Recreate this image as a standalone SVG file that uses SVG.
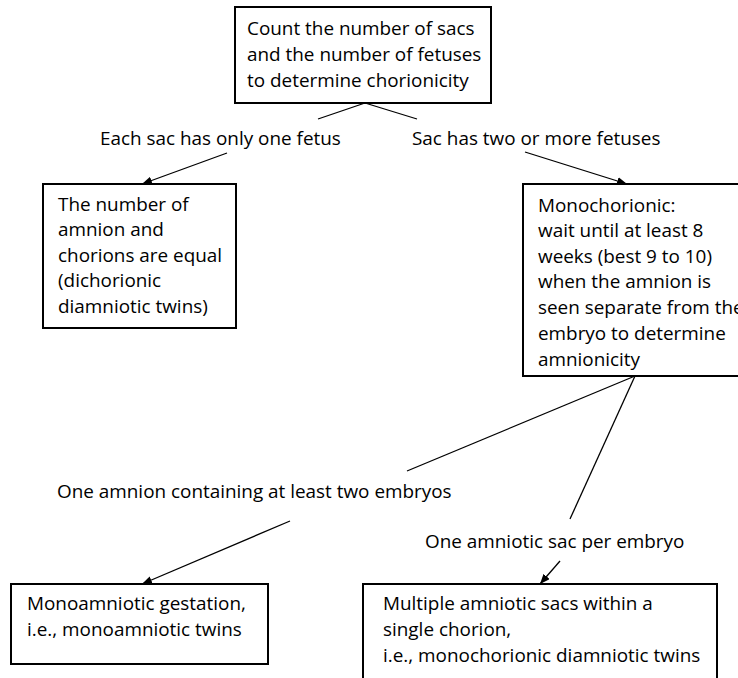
<svg xmlns="http://www.w3.org/2000/svg" width="738" height="678" viewBox="0 0 738 678">
  <defs>
    <marker id="arrow" viewBox="0 0 10 8" refX="10" refY="4" markerWidth="10" markerHeight="8" markerUnits="userSpaceOnUse" orient="auto">
      <path d="M0,0 L10,4 L0,8 z" fill="#000"/>
    </marker>
    <style>
      .box { fill: #fff; stroke: #000; stroke-width: 2; }
      .txt { font-family: "Open Sans", "Noto Sans", "Liberation Sans", sans-serif; font-size: 18.9px; fill: #000; }
      .line { stroke: #000; stroke-width: 1.3; fill: none; }
      .arr { stroke: #000; stroke-width: 1.3; fill: none; marker-end: url(#arrow); }
    </style>
  </defs>
  <rect width="738" height="678" fill="#fff"/>

  <!-- connectors and their labels -->
  <g id="connectors">
    <line class="line" x1="365" y1="103" x2="318" y2="119"/>
    <line class="line" x1="365" y1="103" x2="417" y2="119"/>
    <line class="arr" x1="227" y1="153" x2="142" y2="184"/>
    <line class="arr" x1="525" y1="152" x2="627" y2="184"/>
    <line class="line" x1="635" y1="376" x2="407" y2="471"/>
    <line class="line" x1="635" y1="376" x2="570" y2="519"/>
    <line class="arr" x1="290" y1="521" x2="142" y2="584"/>
    <line class="arr" x1="560" y1="561" x2="540" y2="584"/>
    <text class="txt" x="100" y="145">Each sac has only one fetus</text>
    <text class="txt" x="412" y="145">Sac has two or more fetuses</text>
    <text class="txt" x="57" y="498">One amnion containing at least two embryos</text>
    <text class="txt" x="425" y="548">One amniotic sac per embryo</text>
  </g>

  <g id="root">
    <rect class="box" x="235" y="7" width="256" height="96"/>
    <text class="txt" x="247" y="35">Count the number of sacs</text>
    <text class="txt" x="247" y="61">and the number of fetuses</text>
    <text class="txt" x="247" y="87">to determine chorionicity</text>
  </g>

  <g id="dichorionic">
    <rect class="box" x="43" y="184" width="193" height="144"/>
    <text class="txt" x="58" y="211">The number of</text>
    <text class="txt" x="58" y="236">amnion and</text>
    <text class="txt" x="58" y="262">chorions are equal</text>
    <text class="txt" x="58" y="287">(dichorionic</text>
    <text class="txt" x="58" y="313">diamniotic twins)</text>
  </g>

  <g id="monochorionic">
    <rect class="box" x="523" y="184" width="230" height="192"/>
    <text class="txt" x="538" y="212">Monochorionic:</text>
    <text class="txt" x="538" y="237">wait until at least 8</text>
    <text class="txt" x="538" y="263">weeks (best 9 to 10)</text>
    <text class="txt" x="538" y="288">when the amnion is</text>
    <text class="txt" x="538" y="314">seen separate from the</text>
    <text class="txt" x="538" y="340">embryo to determine</text>
    <text class="txt" x="538" y="366">amnionicity</text>
  </g>

  <g id="monoamniotic">
    <rect class="box" x="11" y="584" width="257" height="80"/>
    <text class="txt" x="27" y="610">Monoamniotic gestation,</text>
    <text class="txt" x="27" y="636">i.e., monoamniotic twins</text>
  </g>

  <g id="diamniotic">
    <rect class="box" x="363" y="584" width="354" height="110"/>
    <text class="txt" x="383" y="610">Multiple amniotic sacs within a</text>
    <text class="txt" x="383" y="636">single chorion,</text>
    <text class="txt" x="383" y="662">i.e., monochorionic diamniotic twins</text>
  </g>
</svg>
